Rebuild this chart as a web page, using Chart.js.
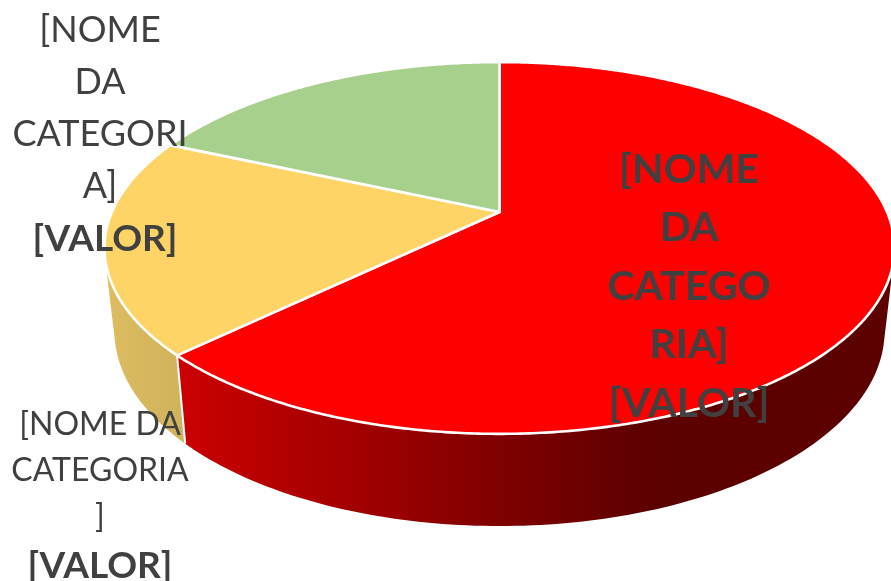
<!DOCTYPE html>
<html><head><meta charset="utf-8">
<style>html,body{margin:0;padding:0;background:#fff;overflow:hidden}#box{width:891px;height:581px;position:relative}</style>
<script src="https://cdn.jsdelivr.net/npm/chart.js@4"></script>
</head><body><div id="box"><canvas id="c" width="891" height="581"></canvas></div>
<script>
const categories = ['[NOME DA CATEGORIA] A', '[NOME DA CATEGORIA] B', '[NOME DA CATEGORIA] C'];
const values = [62.8, 18.8, 18.4];
const topColors = ['#ff0000', '#fdd465', '#a8d08d'];
const labelRed = ['[NOME', 'DA', 'CATEGO', 'RIA]', '[VALOR]'];
const labelYellow = ['[NOME DA', 'CATEGORIA', ']', '[VALOR]'];
const labelGreen = ['[NOME', 'DA', 'CATEGORI', 'A]', '[VALOR]'];

const K = 0.1935, STEP = Math.PI / 180;
function rim(el, a, level) {
  const u = Math.cos(a), v = Math.sin(a), w = 1 - K * v, r = el.outerRadius;
  if (level === 0) return [el.x + r * 1.828 * u / w, el.y + r * 0.844 * v / w];
  return [el.x + r * 1.782 * u / w, el.y + r * (0.3835 + 0.8854 * v / w)];
}
function wallFill(ctx, i) {
  if (i === 0) {
    const g = ctx.createLinearGradient(177, 0, 650, 0);
    g.addColorStop(0, 'rgb(204,0,0)');
    g.addColorStop(1, 'rgb(92,0,0)');
    return g;
  }
  const g = ctx.createLinearGradient(105, 0, 185, 0);
  g.addColorStop(0, 'rgb(222,189,96)');
  g.addColorStop(1, 'rgb(208,178,92)');
  return g;
}
function drawWall(ctx, el, i) {
  ctx.beginPath();
  for (let a = el.startAngle; a < el.endAngle; a += STEP) {
    const b = Math.min(a + STEP, el.endAngle);
    let p = [rim(el, a, 0), rim(el, b, 0), rim(el, b, 1), rim(el, a, 1)];
    let area = 0;
    p.forEach((q, n) => { const r = p[(n + 1) % 4]; area += q[0] * r[1] - r[0] * q[1]; });
    if (area < 0) p = p.reverse();
    p.forEach((q, n) => n ? ctx.lineTo(q[0], q[1]) : ctx.moveTo(q[0], q[1]));
    ctx.closePath();
  }
  ctx.fillStyle = wallFill(ctx, i);
  ctx.fill('nonzero');
}
function drawTop(ctx, el, color) {
  ctx.beginPath();
  ctx.moveTo(el.x, el.y);
  for (let a = el.startAngle; a < el.endAngle; a += STEP / 2) {
    const q = rim(el, a, 0);
    ctx.lineTo(q[0], q[1]);
  }
  const e = rim(el, el.endAngle, 0);
  ctx.lineTo(e[0], e[1]);
  ctx.closePath();
  ctx.fillStyle = color;
  ctx.fill();
  ctx.strokeStyle = '#ffffff';
  ctx.lineWidth = 2.6;
  ctx.lineJoin = 'round';
  ctx.stroke();
}
function drawLines(ctx, lines, cx, baselines, fonts) {
  ctx.fillStyle = '#404040';
  ctx.textAlign = 'center';
  ctx.textBaseline = 'alphabetic';
  lines.forEach((s, i) => {
    ctx.font = fonts[i];
    ctx.fillText(s, cx, baselines[i]);
  });
}
const pie3d = {
  id: 'pie3d',
  beforeDatasetDraw(chart) {
    const ctx = chart.ctx, arcs = chart.getDatasetMeta(0).data;
    ctx.save();
    drawWall(ctx, arcs[1], 1);
    drawWall(ctx, arcs[0], 0);
    const s = arcs[0].endAngle, p0 = rim(arcs[0], s, 0), p1 = rim(arcs[0], s, 1);
    ctx.beginPath(); ctx.moveTo(p0[0], p0[1]); ctx.lineTo(p1[0], p1[1]);
    ctx.strokeStyle = '#ffffff'; ctx.lineWidth = 2; ctx.stroke();
    arcs.forEach((el, i) => drawTop(ctx, el, topColors[i]));
    ctx.restore();
    return false;
  },
  afterDatasetsDraw(chart) {
    const ctx = chart.ctx, R = '36px Lato', B = 'bold 37px Lato', RB = 'bold 41px Lato', S = '32px Lato';
    ctx.save();
    drawLines(ctx, labelGreen.slice(0, 4), 100, [42, 94, 146, 198], [R, R, R, R]);
    drawLines(ctx, labelGreen.slice(4), 105, [251], [B]);
    drawLines(ctx, labelYellow, 100, [435, 481, 527, 578], [S, S, S, B]);
    drawLines(ctx, labelRed, 689, [183, 241, 300, 358, 417], [RB, RB, RB, RB, RB]);
    ctx.restore();
  }
};
new Chart(document.getElementById('c'), {
  type: 'pie',
  data: { labels: categories, datasets: [{ data: values, backgroundColor: topColors, borderWidth: 0 }] },
  options: {
    responsive: false, animation: false,
    layout: { padding: { left: 108, bottom: 157 } },
    plugins: { legend: { display: false }, tooltip: { enabled: false } }
  },
  plugins: [pie3d]
});
</script></body></html>
